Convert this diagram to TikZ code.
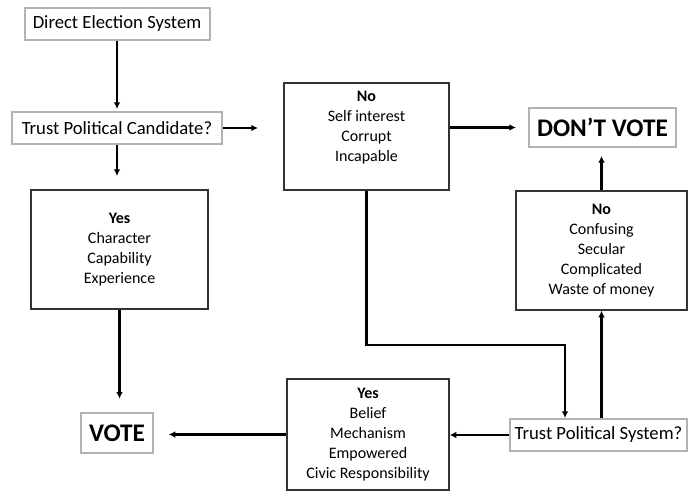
\documentclass[tikz,border=0pt]{standalone}
\usepackage{fontspec}
\setmainfont{Carlito}
\usetikzlibrary{arrows.meta}

\begin{document}
\begin{tikzpicture}[x=0.75pt,y=-0.75pt,
  plain/.style={draw=black!30,line width=1.5pt,fill=white,inner sep=0pt,font=\fontsize{14}{17}\selectfont},
  list/.style={draw=black!80,line width=1pt,inner sep=0pt,align=center,font=\fontsize{12}{15}\selectfont},
  result/.style={plain,font=\fontsize{19}{22}\selectfont\bfseries},
  flow/.style={-{Latex[length=5pt,width=5pt]},line width=2pt}]
\useasboundingbox (0,0) rectangle (688,492);

\node[plain,minimum width=138.75pt,minimum height=24pt] at (117,24) (des) {Direct Election System};
\node[plain,minimum width=157.5pt,minimum height=24pt] at (117,128) (tpc) {Trust Political Candidate?};
\node[list,minimum width=123.75pt,minimum height=80.25pt] at (366.5,136.5) (nocand) {\textbf{No}\\Self interest\\Corrupt\\Incapable\\~};
\node[result,minimum width=110.25pt,minimum height=29.25pt] at (602.5,127.5) (dontvote) {DON’T VOTE};
\node[list,minimum width=132.75pt,minimum height=89.25pt] at (119.5,249.5) (yescand) {\textbf{Yes}\\Character\\Capability\\Experience};
\node[list,minimum width=128.25pt,minimum height=89.25pt] at (601.5,250.5) (nosys) {\textbf{No}\\Confusing\\Secular\\Complicated\\Waste of money};
\node[result,minimum width=54pt,minimum height=30pt] at (117,433) (vote) {VOTE};
\node[list,minimum width=121.5pt,minimum height=83.25pt] at (368,434.5) (yessys) {\textbf{Yes}\\Belief\\Mechanism\\Empowered\\Civic Responsibility};
\node[plain,minimum width=132.75pt,minimum height=24pt] at (598.5,435) (tps) {Trust Political System?};
\coordinate (bend) at (0,345);

\draw[flow,shorten >=1.5pt] (des) -- (tpc);
\draw[flow,shorten >=19pt] (tpc.east) -- (tpc.east -| nocand.west);
\draw[flow,shorten >=10pt] (tpc.south) -- (tpc.south |- yescand.north);
\draw[flow,shorten >=9pt] (nocand.east |- dontvote.west) -- (dontvote.west);
\draw[flow,shorten >=6pt] (nosys.north) -- (nosys.north |- dontvote.south);
\draw[flow,shorten >=10pt] (yescand.south) -- (yescand.south |- vote.north);
\draw[flow,shorten >=11pt] (yessys.west) -- (yessys.west -| vote.east);
\draw[flow] (tps.west) -- (tps.west -| yessys.east);
\draw[flow] (nosys.south |- tps.north) -- (nosys.south);
\draw[flow] (nocand.south) -- (nocand.south |- bend) -| ([xshift=-25.1pt]tps.north);
\end{tikzpicture}
\end{document}
